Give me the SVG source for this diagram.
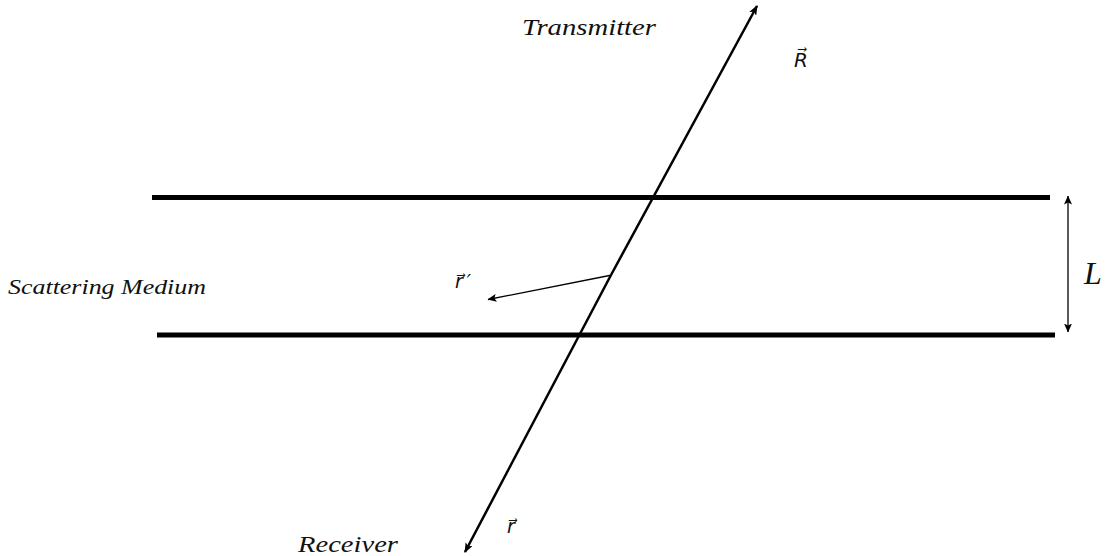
<svg xmlns="http://www.w3.org/2000/svg" width="1111" height="556" viewBox="0 0 1111 556">
<style>
.lbl{font-family:"Liberation Serif","Times New Roman",serif;font-style:italic;fill:#111;}
.vec{font-family:"DejaVu Serif","DejaVu Sans",serif;font-style:italic;fill:#111;}
.slab{stroke:#000;stroke-width:5;fill:none;}
.beam{stroke:#000;stroke-width:2.5;fill:none;}
.thin{stroke:#000;stroke-width:1.3;fill:none;}
</style>
<defs>
<marker id="ah" markerWidth="10" markerHeight="8" refX="9" refY="4" orient="auto" markerUnits="userSpaceOnUse">
<path d="M0,0 L10,4 L0,8 L2.5,4 Z" fill="#000"/>
</marker>
<marker id="ahs" markerWidth="9" markerHeight="8" refX="8.5" refY="4" orient="auto-start-reverse" markerUnits="userSpaceOnUse">
<path d="M0,0 L9,4 L0,8 L2,4 Z" fill="#000"/>
</marker>
</defs>
<g id="medium">
<line class="slab" x1="152" y1="197.5" x2="1050" y2="197.5"/>
<line class="slab" x1="157" y1="335" x2="1055" y2="335"/>
<text class="lbl" x="8" y="294" font-size="22" textLength="198" lengthAdjust="spacingAndGlyphs">Scattering Medium</text>
</g>
<g id="connectors">
<line class="beam" x1="611" y1="275" x2="757" y2="6" marker-end="url(#ah)"/>
<line class="beam" x1="611" y1="275" x2="465" y2="552" marker-end="url(#ah)"/>
<line class="thin" x1="612" y1="275" x2="488" y2="299.5" marker-end="url(#ahs)"/>
<line class="thin" x1="1068" y1="196" x2="1068" y2="332" marker-start="url(#ahs)" marker-end="url(#ahs)"/>
</g>
<g id="transmitter">
<text class="lbl" x="522" y="35" font-size="23" textLength="134" lengthAdjust="spacingAndGlyphs">Transmitter</text>
<text class="vec" x="794" y="67" font-size="20">R&#8407;</text>
</g>
<g id="receiver">
<text class="lbl" x="298" y="552" font-size="23" textLength="100" lengthAdjust="spacingAndGlyphs">Receiver</text>
<text class="vec" x="507" y="533" font-size="19">r&#8407;</text>
</g>
<g id="scatter">
<text class="vec" x="455" y="288" font-size="19">r&#8407;<tspan dx="4">&#8242;</tspan></text>
</g>
<g id="thickness">
<text class="lbl" x="1084" y="284" font-size="32">L</text>
</g>
</svg>
